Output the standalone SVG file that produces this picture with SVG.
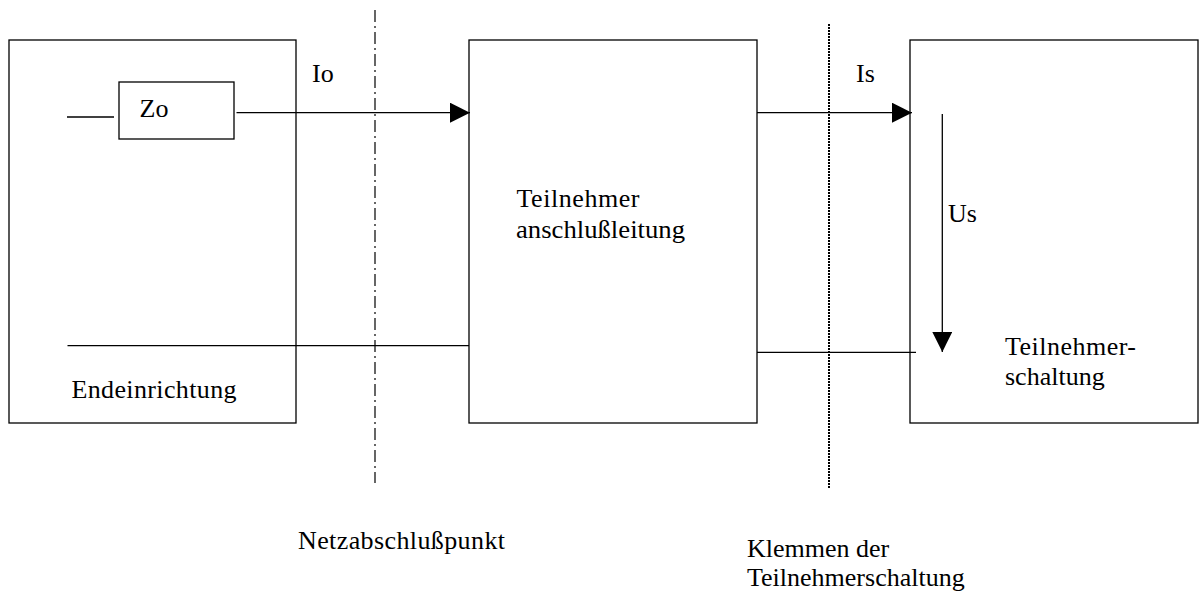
<svg xmlns="http://www.w3.org/2000/svg" width="1204" height="592" viewBox="0 0 1204 592">
<style>
.box{fill:#fff;stroke:#000;stroke-width:1.3}
.ln{fill:none;stroke:#000;stroke-width:1.3}
</style>
<defs>
<marker id="ah" markerUnits="userSpaceOnUse" markerWidth="20" markerHeight="20" refX="20" refY="10" orient="auto">
<path d="M0,0 L20,10 L0,20 z" fill="#000"/>
</marker>
</defs>
<g id="endeinrichtung">
<rect class="box" x="9" y="40" width="287" height="383"/>
<text font-family="Liberation Serif" font-size="26" x="71.5" y="398" textLength="165" lengthAdjust="spacing">Endeinrichtung</text>
</g>
<g id="zo">
<rect class="box" x="119" y="82" width="115" height="57"/>
<text font-family="Liberation Serif" font-size="26" x="139.5" y="117">Zo</text>
</g>
<g id="anschlussleitung">
<rect class="box" x="469" y="40" width="288" height="383"/>
<text font-family="Liberation Serif" font-size="26" x="516.5" y="207" textLength="123" lengthAdjust="spacing">Teilnehmer</text>
<text font-family="Liberation Serif" font-size="26" x="516" y="238" textLength="169" lengthAdjust="spacingAndGlyphs">anschlußleitung</text>
</g>
<g id="teilnehmerschaltung">
<rect class="box" x="910" y="40" width="288" height="383"/>
<text font-family="Liberation Serif" font-size="26" x="1005" y="355" textLength="131" lengthAdjust="spacing">Teilnehmer-</text>
<text font-family="Liberation Serif" font-size="26" x="1005" y="385">schaltung</text>
</g>
<g id="connectors">
<line class="ln" x1="67" y1="117" x2="114" y2="117"/>
<line class="ln" x1="236.5" y1="112.7" x2="470" y2="112.7" marker-end="url(#ah)"/>
<line class="ln" x1="757" y1="112.7" x2="912" y2="112.7" marker-end="url(#ah)"/>
<line class="ln" x1="942.3" y1="114" x2="942.3" y2="352" marker-end="url(#ah)"/>
<line class="ln" x1="67.5" y1="345.7" x2="469" y2="345.7"/>
<line class="ln" x1="757" y1="352.3" x2="916" y2="352.3"/>
</g>
<g id="boundaries">
<line x1="375" y1="10" x2="375" y2="483" stroke="#000" stroke-width="1.2" stroke-dasharray="12,4,2,4"/>
<line x1="829" y1="24" x2="829" y2="489" stroke="#000" stroke-width="2" stroke-dasharray="2,1"/>
</g>
<g id="labels">
<text font-family="Liberation Serif" font-size="26" x="312" y="82">Io</text>
<text font-family="Liberation Serif" font-size="26" x="856" y="82">Is</text>
<text font-family="Liberation Serif" font-size="26" x="948" y="221.7">Us</text>
<text font-family="Liberation Serif" font-size="26" x="298" y="549" textLength="207" lengthAdjust="spacing">Netzabschlußpunkt</text>
<text font-family="Liberation Serif" font-size="26" x="747" y="557">Klemmen der</text>
<text font-family="Liberation Serif" font-size="26" x="747" y="586">Teilnehmerschaltung</text>
</g>
</svg>
